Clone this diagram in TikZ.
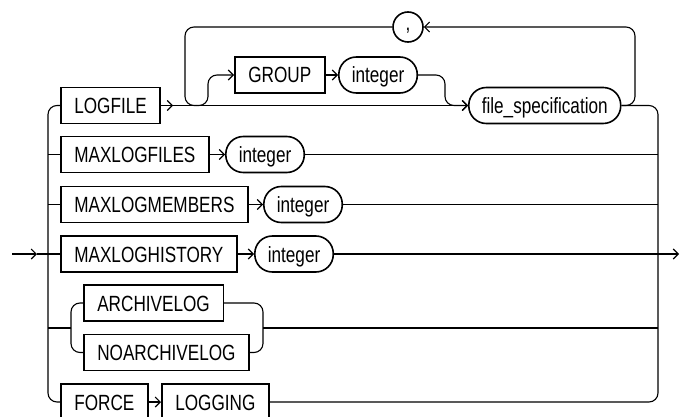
\documentclass[tikz,border=0pt]{standalone}
\usepackage{fontspec}
\setmainfont{Liberation Sans}[FakeStretch=0.78]
\usetikzlibrary{arrows.meta}
\begin{document}
\begin{tikzpicture}[x=1pt, y=-1pt, line width=1.1pt,
  kw/.style={draw, line width=1.6pt, rectangle, anchor=west, minimum height=36pt,
    inner xsep=13.5pt, inner ysep=0pt, text height=16pt, text depth=0pt,
    font=\fontsize{22}{25}\selectfont},
  nt/.style={kw, rounded corners=17.5pt, inner xsep=13pt},
  sep/.style={draw, circle, line width=1.6pt, minimum size=30pt, inner sep=0pt,
    text height=8pt, text depth=0pt, font=\fontsize{22}{25}\selectfont},
  arr/.style={-{Straight Barb[length=5pt,width=10pt]}},
  rnd/.style={rounded corners=9pt}]
  \useasboundingbox (0,0) rectangle (680,417);
  % rails and junctions
  \coordinate (entry) at (12,254);
  \coordinate (inarr) at (37,254);
  \coordinate (exit) at (679,254);
  \coordinate (lrail) at (48,254);
  \coordinate (rrail) at (658,254);
  \coordinate (lfarr) at (173,105.5);
  \coordinate (gsplit) at (196,105.5);
  \coordinate (gup) at (208,75);
  \coordinate (gdown) at (445,75);
  \coordinate (loopl) at (185,27);
  \coordinate (loopr) at (635,27);
  \coordinate (asplit) at (71,328);
  \coordinate (ajoin) at (263,328);
  % terms
  \node[kw] (logfile) at (60,105.5) {LOGFILE};
  \node[kw] (group) at (234,75) {GROUP};
  \node[nt] (gint) at (338,75) {integer};
  \node[sep] (comma) at (408,27) {,};
  \node[nt] (filespec) at (468,105.5) {file\_specification};
  \node[kw] (maxfiles) at (60,154.5) {MAXLOGFILES};
  \node[nt] (fint) at (225,154.5) {integer};
  \node[kw] (maxmembers) at (60,204.5) {MAXLOGMEMBERS};
  \node[nt] (mint) at (263,204.5) {integer};
  \node[kw] (maxhistory) at (60,254) {MAXLOGHISTORY};
  \node[nt] (hint) at (254,254) {integer};
  \node[kw] (archive) at (83,303) {ARCHIVELOG};
  \node[kw] (noarchive) at (83,352.5) {NOARCHIVELOG};
  \node[kw] (force) at (60,402) {FORCE};
  \node[kw] (logging) at (161,402) {LOGGING};
  % main line
  \draw[arr] (entry) -- (inarr);
  \draw (inarr) -- (maxhistory.west);
  \draw[arr] (maxhistory.east) -- (hint.west);
  \draw[arr] (hint.east) -- (exit);
  % left rail
  \draw[rnd] (logfile.west) -- (lrail |- logfile.west) -- (lrail |- force.west) -- (force.west);
  \draw (lrail |- maxfiles.west) -- (maxfiles.west);
  \draw (lrail |- maxmembers.west) -- (maxmembers.west);
  \draw (lrail |- asplit) -- (asplit);
  % right rail
  \draw[rnd] (filespec.east) -- (rrail |- filespec.east) -- (rrail |- logging.east) -- (logging.east);
  \draw (fint.east) -- (rrail |- fint.east);
  \draw (mint.east) -- (rrail |- mint.east);
  \draw (ajoin) -- (rrail |- ajoin);
  % logfile row
  \draw[arr] (logfile.east) -- (lfarr);
  \draw[arr] (lfarr) -- (filespec.west);
  \draw[rnd, arr] (gsplit) -- (gup |- gsplit) -- (gup) -- (group.west);
  \draw[arr] (group.east) -- (gint.west);
  \draw[rnd, arr] (gint.east) -- (gdown) -- (gdown |- filespec.west) -- (filespec.west);
  \draw[rnd, arr] (filespec.east) -- (loopr |- filespec.east) -- (loopr) -- (comma.east);
  \draw[rnd] (comma.west) -- (loopl) -- (loopl |- logfile.east) -- (gsplit);
  % other rows
  \draw[arr] (maxfiles.east) -- (fint.west);
  \draw[arr] (maxmembers.east) -- (mint.west);
  \draw[rnd] (asplit) -- (asplit |- archive.west) -- (archive.west);
  \draw[rnd] (asplit) -- (asplit |- noarchive.west) -- (noarchive.west);
  \draw[rnd] (archive.east) -- (ajoin |- archive.east) -- (ajoin |- noarchive.east) -- (noarchive.east);
  \draw[arr] (force.east) -- (logging.west);
\end{tikzpicture}
\end{document}
